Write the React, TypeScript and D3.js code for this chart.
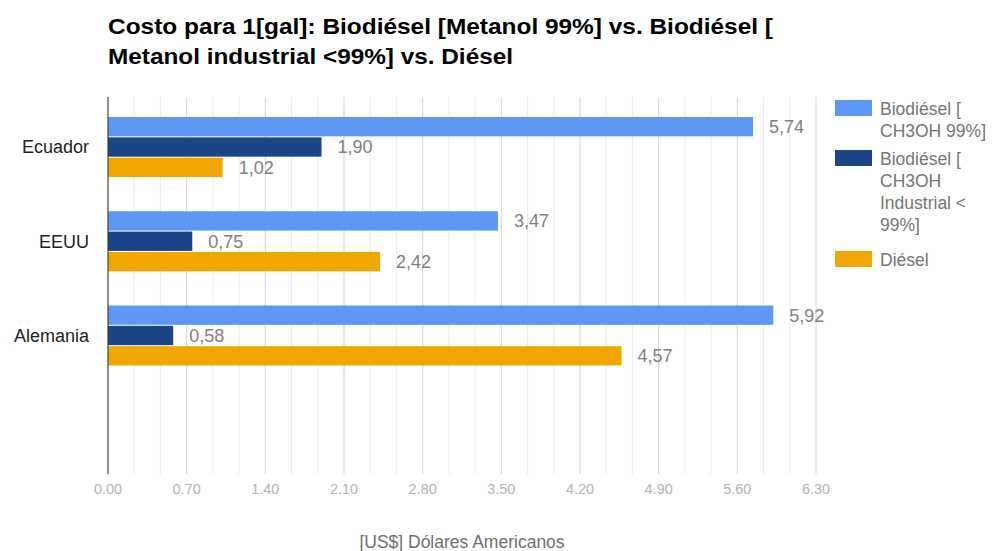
import React from "react";
import * as d3 from "d3";

const categories = ["Ecuador", "EEUU", "Alemania"];
const seriesNames = [
  ["Biodiésel [", "CH3OH 99%]"],
  ["Biodiésel [", "CH3OH", "Industrial <", "99%]"],
  ["Diésel"],
];
const biodiesel99 = [5.74, 3.47, 5.92];
const biodieselInd = [1.9, 0.75, 0.58];
const diesel = [1.02, 2.42, 4.57];
const tickValues = [0, 0.7, 1.4, 2.1, 2.8, 3.5, 4.2, 4.9, 5.6, 6.3];
const colors = ["#5e97f6", "#1c4587", "#f2a600"];
const titleLines = [
  "Costo para 1[gal]: Biodiésel [Metanol 99%] vs. Biodiésel [",
  "Metanol industrial <99%] vs. Diésel",
];
const axisTitle = "[US$] Dólares Americanos";

export default function App() {
  const W = 995, H = 551;
  const left = 108, right = 816, top = 97, bottom = 474;
  const step = (bottom - top) / 4;
  const x = d3.scaleLinear().domain([0, 6.3]).range([left, right]);
  const y = d3.scaleBand<string>().domain(categories).range([top, top + step * 3]).padding(0);
  const series = [biodiesel99, biodieselInd, diesel];
  const inner = d3.scaleBand<number>().domain([0, 1, 2]).range([20, 80]).paddingInner(0.05).paddingOuter(0);
  const minorTicks = d3.range(0, 28).map((i) => (i * 0.7) / 3);
  const fmt = (v: number) => v.toFixed(2).replace(".", ",");
  const font = "'Liberation Sans', Arial, sans-serif";

  const legendTops = [100, 150, 251];

  return (
    <svg width={W} height={H} style={{ position: "absolute", left: 0, top: 0, background: "#fff" }}>
      <rect width={W} height={H} fill="#fff" />
      {titleLines.map((t, i) => (
        <text key={i} x={108} y={34 + i * 30} fontFamily={font} fontWeight="bold" fontSize={22} fill="#000"
          textLength={i === 0 ? 665 : 405} lengthAdjust="spacingAndGlyphs">{t}</text>
      ))}
      {minorTicks.filter((v) => v <= 6.3 + 1e-9).map((v, i) => {
        const major = i % 3 === 0;
        return (
          <line key={i} x1={x(v)} x2={x(v)} y1={top} y2={bottom}
            stroke={major ? "#d4d4d4" : "#ececec"} strokeWidth={1} />
        );
      })}
      {categories.map((c, ci) => (
        <g key={c}>
          {series.map((s, si) => (
            <g key={si}>
              <rect x={x(0)} y={(y(c) as number) + (inner(si) as number)} width={x(s[ci]) - x(0)} height={inner.bandwidth()} fill={colors[si]} />
              <text x={x(s[ci]) + 16} y={(y(c) as number) + (inner(si) as number) + inner.bandwidth() / 2} dy="0.36em"
                fontFamily={font} fontSize={18} fill="#808080">{fmt(s[ci])}</text>
            </g>
          ))}
          <text x={89} y={(y(c) as number) + 50} dy="0.36em" textAnchor="end" fontFamily={font} fontSize={18} fill="#222">{c}</text>
        </g>
      ))}
      <line x1={x(0)} x2={x(0)} y1={top} y2={bottom} stroke="#333" strokeWidth={1} />
      {tickValues.map((v) => (
        <text key={v} x={x(v)} y={494} textAnchor="middle" fontFamily={font} fontSize={14.5} fill="#b3b3b3">{v.toFixed(2)}</text>
      ))}
      <text x={(left + right) / 2} y={548} textAnchor="middle" fontFamily={font} fontSize={17.5} fill="#6f6f6f">{axisTitle}</text>
      {seriesNames.map((lines, i) => (
        <g key={i}>
          <rect x={835} y={legendTops[i]} width={37} height={16} fill={colors[i]} />
          {lines.map((l, j) => (
            <text key={j} x={880} y={legendTops[i] + 15 + j * 22} fontFamily={font} fontSize={17.5} fill="#757575">{l}</text>
          ))}
        </g>
      ))}
    </svg>
  );
}
